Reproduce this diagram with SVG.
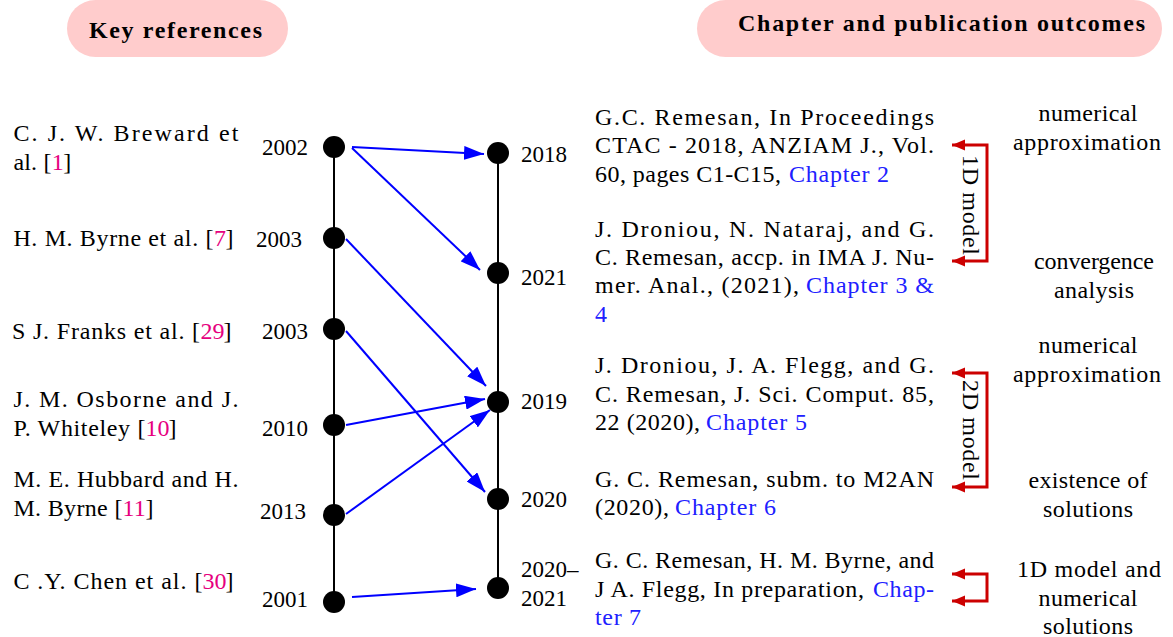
<svg xmlns="http://www.w3.org/2000/svg" width="1173" height="637" viewBox="0 0 1173 637">
<style>
text{font-family:"Liberation Serif","Times New Roman",serif;font-size:24px;fill:#000}
.hdr{font-weight:bold;font-size:24px}
.yr{font-size:23px}
.pill{fill:#ffcccc}
.cite{fill:#e6007e}
.link{fill:#2020ff}
.tl{stroke:#000;stroke-width:2;fill:none}
.blue{stroke:#0000ff;stroke-width:2;fill:none;marker-end:url(#ab)}
.red{stroke:#cc0000;stroke-width:3;fill:none;marker-start:url(#ar);marker-end:url(#ar)}
.node{fill:#000}
.mid{text-anchor:middle}
.end{text-anchor:end}
</style>
<defs>
<marker id="ab" markerUnits="userSpaceOnUse" markerWidth="20" markerHeight="14" refX="20" refY="7" orient="auto"><path d="M0,0 L20,7 L0,14 z" fill="#0000ff"/></marker>
<marker id="ar" markerUnits="userSpaceOnUse" markerWidth="14" markerHeight="12" refX="13" refY="6" orient="auto-start-reverse"><path d="M0,0.5 L13,6 L0,11.5 z" fill="#cc0000"/></marker>
</defs>

<g id="header-left"><rect class="pill" x="67" y="0" width="221" height="57" rx="28.5"/><text class="hdr" x="89" y="38" textLength="173">Key references</text></g>
<g id="header-right"><rect class="pill" x="697" y="0" width="465" height="57" rx="28.5"/><text class="hdr" x="738" y="31" textLength="407">Chapter and publication outcomes</text></g>

<g id="connectors">
<line class="tl" x1="334" y1="147" x2="334" y2="602"/>
<line class="tl" x1="498" y1="153" x2="498" y2="588"/>
<line class="blue" x1="352" y1="147" x2="484" y2="154"/>
<line class="blue" x1="352" y1="148" x2="480" y2="270"/>
<line class="blue" x1="346" y1="239" x2="486" y2="386"/>
<line class="blue" x1="346" y1="331" x2="485" y2="492"/>
<line class="blue" x1="346" y1="425" x2="485" y2="399"/>
<line class="blue" x1="346" y1="514" x2="490" y2="410"/>
<line class="blue" x1="352" y1="597" x2="476" y2="589"/>
<path class="red" d="M952,145 H987 V261 H952"/>
<path class="red" d="M952,373 H987 V487 H952"/>
<path class="red" d="M952,574 H987 V601 H952"/>
<text class="mid" transform="translate(963,205) rotate(90)" textLength="100">1D model</text>
<text class="mid" transform="translate(963,430) rotate(90)" textLength="100">2D model</text>
</g>

<g id="ref-breward"><text x="13.4" y="141" textLength="225">C. J. W. Breward et</text><text x="13.4" y="170" textLength="38">al. [</text><text class="cite" x="51.7" y="170">1</text><text x="63.2" y="170">]</text></g>
<g id="ref-byrne"><text x="13.4" y="246" textLength="200">H. M. Byrne et al. [</text><text class="cite" x="214.1" y="246">7</text><text x="225.6" y="246">]</text></g>
<g id="ref-franks"><text x="12" y="339" textLength="188">S J. Franks et al. [</text><text class="cite" x="200.6" y="339">29</text><text x="223.6" y="339">]</text></g>
<g id="ref-osborne"><text x="13.4" y="407" textLength="225">J. M. Osborne and J.</text><text x="13.4" y="436" textLength="132">P. Whiteley [</text><text class="cite" x="145.6" y="436">10</text><text x="168.6" y="436">]</text></g>
<g id="ref-hubbard"><text x="13.4" y="487" textLength="225">M. E. Hubbard and H.</text><text x="13.4" y="516" textLength="109">M. Byrne [</text><text class="cite" x="122.6" y="516">11</text><text x="145.6" y="516">]</text></g>
<g id="ref-chen"><text x="13.4" y="589" textLength="189">C .Y. Chen et al. [</text><text class="cite" x="202.6" y="589">30</text><text x="225.6" y="589">]</text></g>

<g id="n2002"><circle class="node" cx="334" cy="147" r="11"/><text class="end yr" x="308" y="155">2002</text></g>
<g id="n2003a"><circle class="node" cx="334" cy="238" r="11"/><text class="end yr" x="302" y="247">2003</text></g>
<g id="n2003b"><circle class="node" cx="334" cy="329" r="11"/><text class="end yr" x="308" y="339">2003</text></g>
<g id="n2010"><circle class="node" cx="334" cy="425" r="11"/><text class="end yr" x="308" y="436">2010</text></g>
<g id="n2013"><circle class="node" cx="334" cy="515" r="11"/><text class="end yr" x="306" y="519">2013</text></g>
<g id="n2001"><circle class="node" cx="334" cy="602" r="11"/><text class="end yr" x="308" y="607">2001</text></g>

<g id="n2018"><circle class="node" cx="498" cy="153" r="11"/><text class="yr" x="521" y="162">2018</text></g>
<g id="n2021"><circle class="node" cx="498" cy="273" r="11"/><text class="yr" x="521" y="285">2021</text></g>
<g id="n2019"><circle class="node" cx="498" cy="402" r="11"/><text class="yr" x="521" y="409">2019</text></g>
<g id="n2020"><circle class="node" cx="498" cy="499" r="11"/><text class="yr" x="521" y="507">2020</text></g>
<g id="n2020-2021"><circle class="node" cx="498" cy="588" r="11"/><text class="yr" x="521" y="577">2020–</text><text class="yr" x="521" y="606">2021</text></g>

<g id="pub-ch2"><text x="595" y="125" textLength="339">G.C. Remesan, In Proceedings</text><text x="595" y="153" textLength="339">CTAC - 2018, ANZIAM J., Vol.</text><text x="595" y="182" textLength="186">60, pages C1-C15,</text><text class="link" x="789" y="182" textLength="100">Chapter 2</text></g>
<g id="pub-ch34"><text x="595" y="237" textLength="339">J. Droniou, N. Nataraj, and G.</text><text x="595" y="265" textLength="339">C. Remesan, accp. in IMA J. Nu-</text><text x="595" y="293" textLength="204">mer. Anal., (2021),</text><text class="link" x="806" y="293" textLength="128">Chapter 3 &amp;</text><text class="link" x="595" y="322">4</text></g>
<g id="pub-ch5"><text x="595" y="373" textLength="339">J. Droniou, J. A. Flegg, and G.</text><text x="595" y="402" textLength="339">C. Remesan, J. Sci. Comput. 85,</text><text x="595" y="430" textLength="105">22 (2020),</text><text class="link" x="706" y="430" textLength="101">Chapter 5</text></g>
<g id="pub-ch6"><text x="595" y="487" textLength="339">G. C. Remesan, subm. to M2AN</text><text x="595" y="515" textLength="74">(2020),</text><text class="link" x="675" y="515" textLength="101">Chapter 6</text></g>
<g id="pub-ch7"><text x="595" y="568" textLength="339">G. C. Remesan, H. M. Byrne, and</text><text x="595" y="597" textLength="269">J A. Flegg, In preparation,</text><text class="link" x="873" y="597" textLength="61">Chap-</text><text class="link" x="595" y="625" textLength="46">ter 7</text></g>

<g id="out-1"><text class="mid" x="1088" y="121" textLength="99">numerical</text><text class="mid" x="1087" y="150" textLength="148">approximation</text></g>
<g id="out-2"><text class="mid" x="1094" y="269" textLength="120">convergence</text><text class="mid" x="1094" y="298" textLength="80">analysis</text></g>
<g id="out-3"><text class="mid" x="1088" y="353" textLength="99">numerical</text><text class="mid" x="1087" y="382" textLength="148">approximation</text></g>
<g id="out-4"><text class="mid" x="1088" y="488" textLength="119">existence of</text><text class="mid" x="1088" y="517" textLength="90">solutions</text></g>
<g id="out-5"><text class="mid" x="1089" y="577" textLength="144">1D model and</text><text class="mid" x="1088" y="606" textLength="99">numerical</text><text class="mid" x="1088" y="634" textLength="90">solutions</text></g>
</svg>
